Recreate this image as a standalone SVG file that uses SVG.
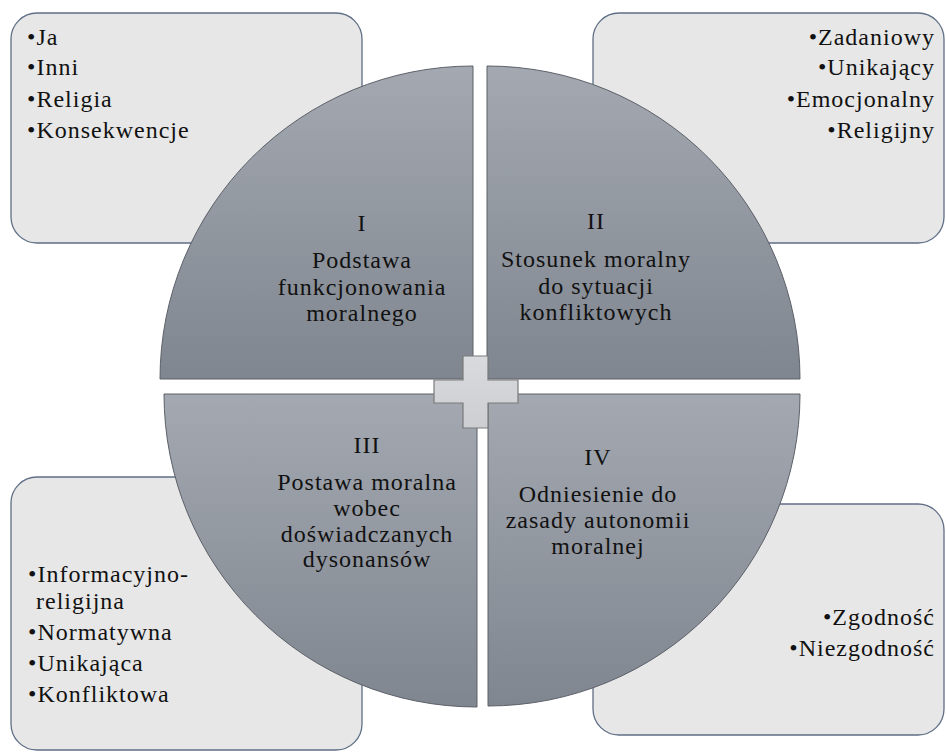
<svg xmlns="http://www.w3.org/2000/svg" width="946" height="755" viewBox="0 0 946 755">
<defs>
<linearGradient id="wg" x1="0" y1="0" x2="0" y2="1">
<stop offset="0" stop-color="#a3a8b1"/>
<stop offset="1" stop-color="#80868f"/>
</linearGradient>
<linearGradient id="pg" x1="0" y1="0" x2="0" y2="1">
<stop offset="0" stop-color="#d9dadd"/>
<stop offset="1" stop-color="#cdced2"/>
</linearGradient>
<style>
.box{fill:#e7e7e7;stroke:#5f6f86;stroke-width:1.3}
.wedge{fill:url(#wg);stroke:#5c6068;stroke-width:1}
.plus{fill:url(#pg);stroke:#7a7a7a;stroke-width:1.2}
.t{font-family:"Liberation Serif","Times New Roman",serif;font-size:24px;letter-spacing:1px;fill:#111}
.c{text-anchor:middle}
.r{text-anchor:end}
</style>
</defs>
<rect width="946" height="755" fill="#ffffff"/>
<g id="box-tl"><rect class="box" x="11" y="13" width="351" height="230" rx="26"/></g>
<g id="box-tr"><rect class="box" x="593" y="13" width="351" height="230" rx="26"/></g>
<g id="box-bl"><rect class="box" x="11" y="477" width="351" height="273" rx="26"/></g>
<g id="box-br"><rect class="box" x="593" y="504" width="351" height="231" rx="26"/></g>
<g id="wedge-1"><path class="wedge" d="M473,379 L160,379 A313,313 0 0 1 473,66 Z"/></g>
<g id="wedge-2"><path class="wedge" d="M487,379 L487,66 A313,313 0 0 1 800,379 Z"/></g>
<g id="wedge-3"><path class="wedge" d="M477,394 L477,707 A313,313 0 0 1 164,394 Z"/></g>
<g id="wedge-4"><path class="wedge" d="M488,394 L800,394 A312,312 0 0 1 488,706 Z"/></g>
<g id="plus"><path class="plus" d="M463,356 H488 V380 H518 V403 H488 V428 H463 V403 H434 V380 H463 Z"/></g>
<g id="text-tl" class="t">
<text x="27" y="45">•Ja</text>
<text x="27" y="75">•Inni</text>
<text x="27" y="107">•Religia</text>
<text x="27" y="138">•Konsekwencje</text>
</g>
<g id="text-tr" class="t r">
<text x="935" y="45">•Zadaniowy</text>
<text x="935" y="75">•Unikający</text>
<text x="935" y="107">•Emocjonalny</text>
<text x="935" y="138">•Religijny</text>
</g>
<g id="text-bl" class="t">
<text x="28" y="582">•Informacyjno-</text>
<text x="36" y="609">religijna</text>
<text x="28" y="640">•Normatywna</text>
<text x="28" y="671">•Unikająca</text>
<text x="28" y="702">•Konfliktowa</text>
</g>
<g id="text-br" class="t r">
<text x="935" y="625">•Zgodność</text>
<text x="935" y="656">•Niezgodność</text>
</g>
<g id="label-1" class="t c">
<text x="362" y="231">I</text>
<text x="362" y="268">Podstawa</text>
<text x="362" y="295">funkcjonowania</text>
<text x="362" y="321">moralnego</text>
</g>
<g id="label-2" class="t c">
<text x="596" y="229">II</text>
<text x="596" y="267">Stosunek moralny</text>
<text x="596" y="294">do sytuacji</text>
<text x="596" y="320">konfliktowych</text>
</g>
<g id="label-3" class="t c">
<text x="367" y="453">III</text>
<text x="367" y="490">Postawa moralna</text>
<text x="367" y="516">wobec</text>
<text x="367" y="542">doświadczanych</text>
<text x="367" y="567">dysonansów</text>
</g>
<g id="label-4" class="t c">
<text x="598" y="465">IV</text>
<text x="598" y="502">Odniesienie do</text>
<text x="598" y="528">zasady autonomii</text>
<text x="598" y="554">moralnej</text>
</g>
</svg>
